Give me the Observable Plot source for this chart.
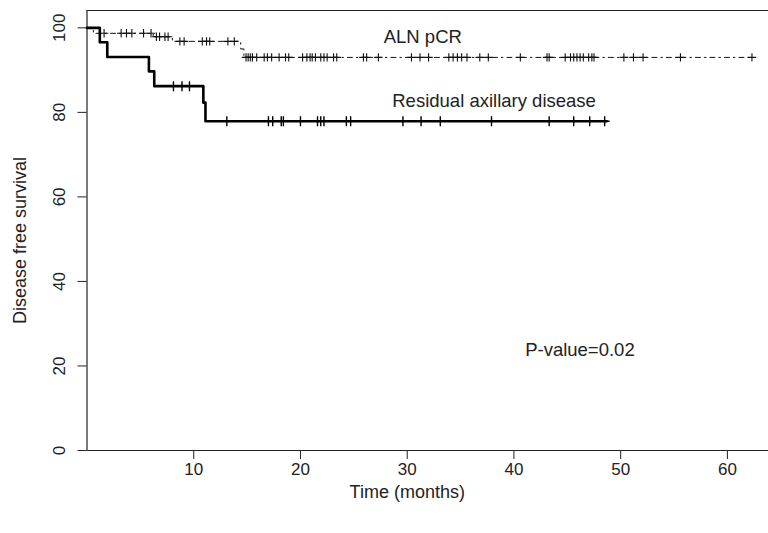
<!DOCTYPE html>
<html>
<head>
<meta charset="utf-8">
<script src="https://cdn.jsdelivr.net/npm/d3@7"></script>
<script src="https://cdn.jsdelivr.net/npm/@observablehq/plot@0.6"></script>
<style>
  html, body { margin: 0; padding: 0; background: #fff; }
  svg { display: block; }
</style>
</head>
<body>
<script>
// --- Data (Kaplan–Meier style step curves) ---
// Residual axillary disease: event times (months) and survival level after each step
const resTimes = [0, 1.2, 1.9, 5.8, 6.3, 10.9, 11.1, 48.7];
const resSurv  = [100, 96.6, 93.1, 89.7, 86.2, 82.3, 77.9, 77.9];
const resCensor = [8.1, 8.9, 9.6, 13.1, 17.0, 17.4, 18.2, 18.4, 20.0, 21.6, 21.9, 22.2,
                   24.3, 24.7, 29.6, 31.3, 33.1, 37.9, 43.3, 45.6, 47.1, 48.5];

// ALN pCR
const alnTimes = [0, 0.6, 6.2, 8.0, 14.4, 14.7, 62.3];
const alnSurv  = [100, 98.7, 97.9, 96.8, 95.0, 93.0, 93.0];
const alnCensor = [1.6, 3.2, 3.7, 4.2, 5.3, 6.0,
                   6.5, 6.8, 7.3, 7.6,
                   8.7, 9.1, 10.8, 11.2, 11.5, 13.2, 13.8,
                   14.9, 15.1, 15.3, 15.5, 15.9, 16.6, 16.9, 17.3, 18.0, 18.6, 18.9,
                   20.2, 20.6, 20.9, 21.1, 21.4, 21.9, 22.2, 22.5, 23.1, 23.4,
                   25.9, 26.2, 27.3, 30.4, 31.2, 32.0, 33.9, 34.3, 34.7, 35.1, 35.6,
                   36.8, 37.6, 40.6, 43.1, 43.3, 44.8, 45.3, 45.6, 45.9, 46.2, 46.5,
                   47.0, 47.3, 47.5, 50.3, 51.2, 52.1, 55.6, 62.3];

const xTicks = [10, 20, 30, 40, 50, 60];
const yTicks = [0, 20, 40, 60, 80, 100];

const labelText = ["ALN pCR", "Residual axillary disease", "P-value=0.02"];
const labelX = [27.8, 28.6, 41.05];
const labelY = [97.8, 82.6, 23.7];

// --- Build tables ---
const toSteps = (ts, ss) => ts.map((t, i) => ({t, s: ss[i]}));
const survAt = (ts, ss, t) => { let s = ss[0]; for (let i = 0; i < ts.length; i++) if (ts[i] <= t) s = ss[i]; return s; };
const resLine = toSteps(resTimes, resSurv);
const alnLine = toSteps(alnTimes, alnSurv);
const resMarks = resCensor.map(t => ({t, s: survAt(resTimes, resSurv, t)}));
const alnMarks = alnCensor.map(t => ({t, s: survAt(alnTimes, alnSurv, t)}));
const labels = labelText.map((text, i) => ({text, x: labelX[i], y: labelY[i]}));

const plus = {
  draw(ctx, size) {
    const r = Math.sqrt(size / Math.PI);
    ctx.moveTo(-r, 0); ctx.lineTo(r, 0);
    ctx.moveTo(0, -r); ctx.lineTo(0, r);
  }
};

const xMax = 63.85, yMax = 104.1;
const font = "'Liberation Sans', Arial, Helvetica, sans-serif";

const chart = Plot.plot({
  width: 768,
  height: 533,
  marginLeft: 86.5,
  marginRight: 0,
  marginTop: 10,
  marginBottom: 83,
  style: { fontFamily: font, fontSize: "17px", color: "#222", background: "#fff" },
  x: { domain: [0, xMax], ticks: xTicks, tickSize: 9, tickPadding: 3, label: null },
  y: { domain: [0, yMax], ticks: yTicks, tickSize: 9, tickFormat: () => "", label: null },
  marks: [
    // frame (top, left, bottom; right side lies beyond the picture)
    Plot.ruleY([yMax], { stroke: "#222", strokeWidth: 1.2 }),
    Plot.ruleY([0], { stroke: "#222", strokeWidth: 1.2 }),
    Plot.ruleX([0], { stroke: "#222", strokeWidth: 1.2 }),
    // curves
    Plot.line(alnLine, { x: "t", y: "s", curve: "step-after", stroke: "#111", strokeWidth: 1, strokeDasharray: "5,4,1.5,4" }),
    Plot.line(resLine, { x: "t", y: "s", curve: "step-after", stroke: "#000", strokeWidth: 2.6 }),
    // censor marks
    Plot.dot(alnMarks, { x: "t", y: "s", symbol: plus, r: 4.2, fill: "none", stroke: "#111", strokeWidth: 1.1 }),
    Plot.dot(resMarks, { x: "t", y: "s", symbol: plus, r: 5, fill: "none", stroke: "#000", strokeWidth: 1.4 }),
    // y tick labels (rotated, as in the reference)
    Plot.text(yTicks, { y: d => d, text: d => String(d), frameAnchor: "left", dx: -27.5, rotate: -90,
                        textAnchor: "middle", lineAnchor: "middle", fontSize: 17, fill: "#222" }),
    // axis titles
    Plot.text(["Time (months)"], { frameAnchor: "bottom", dx: -20.5, dy: 42, lineAnchor: "middle", fontSize: 18, fill: "#222" }),
    Plot.text(["Disease free survival"], { frameAnchor: "left", dx: -66.5, dy: 10, rotate: -90, textAnchor: "middle", lineAnchor: "middle", fontSize: 18, fill: "#222" }),
    // annotations
    Plot.text(labels, { x: "x", y: "y", text: "text", textAnchor: "start", lineAnchor: "middle", fontSize: 18.5, fill: "#222" })
  ]
});

document.body.appendChild(chart);
</script>
</body>
</html>
